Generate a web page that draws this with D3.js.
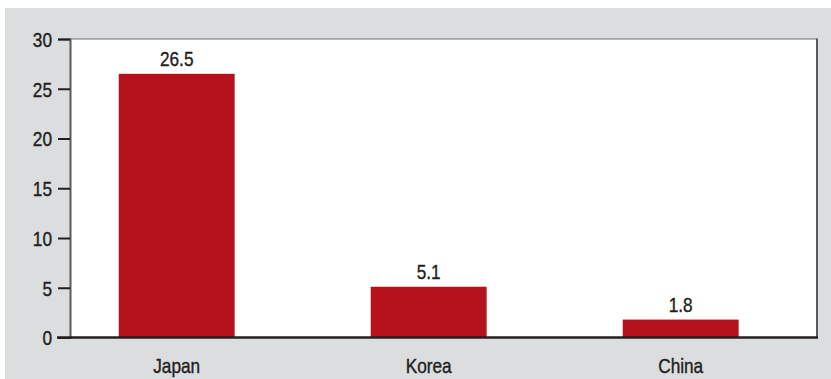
<!DOCTYPE html>
<html>
<head>
<meta charset="utf-8">
<script src="https://cdn.jsdelivr.net/npm/d3@7"></script>
<style>
  html, body { margin: 0; padding: 0; background: #ffffff; }
  svg { display: block; }
  text { font-family: "Liberation Sans", Arial, Helvetica, sans-serif; fill: #231f20; }
</style>
</head>
<body>
<svg id="chart" width="831" height="379"></svg>
<script>
// Chart data
const categories = ["Japan", "Korea", "China"];
const values = [26.5, 5.1, 1.8];
const yTicks = [0, 5, 10, 15, 20, 25, 30];

const W = 831, H = 379;
const plot = { left: 70, top: 39, right: 817, bottom: 337.5 };
const FS = 21;
const SQUEEZE = 0.82;   // narrow the sans face into a condensed look
const INK = "#231f20";

const svg = d3.select("#chart");

// Position a text node at (px, py) and condense it horizontally
function condense(sel, px, py) {
  sel.attr("x", 0).attr("y", 0)
    .attr("transform", (d, i, n) => `translate(${px(d, i, n)},${py(d, i, n)}) scale(${SQUEEZE},1)`)
    .attr("font-size", FS)
    .attr("font-family", "Liberation Sans, Arial, Helvetica, sans-serif")
    .attr("fill", INK)
    .attr("stroke", INK)
    .attr("stroke-width", 0.4);
}

// Grey panel behind the plot
svg.append("rect")
  .attr("x", 5).attr("y", 8)
  .attr("width", W - 5).attr("height", H - 8)
  .attr("fill", "#dcdddf");

// White plotting area
svg.append("rect")
  .attr("x", plot.left).attr("y", plot.top)
  .attr("width", plot.right - plot.left).attr("height", plot.bottom - plot.top)
  .attr("fill", "#ffffff");

const y = d3.scaleLinear().domain([0, 30]).range([plot.bottom, plot.top]);

const x = d3.scaleBand()
  .domain(categories)
  .range([50.7, 806.7])
  .paddingInner(0.54)
  .paddingOuter(0.27);

const rows = categories.map((c, i) => ({ c, v: values[i] }));

// Bars
svg.append("g")
  .selectAll("rect")
  .data(rows)
  .join("rect")
  .attr("x", d => x(d.c))
  .attr("y", d => y(d.v))
  .attr("width", x.bandwidth())
  .attr("height", d => y(0) - y(d.v))
  .attr("fill", "#b5121b");

// Value labels above the bars
svg.append("g")
  .selectAll("text")
  .data(rows)
  .join("text")
  .attr("text-anchor", "middle")
  .text(d => d.v.toFixed(1))
  .call(condense, d => x(d.c) + x.bandwidth() / 2, d => y(d.v) - 7.5);

// Frame: top and right edges
svg.append("line")
  .attr("x1", plot.left).attr("x2", plot.right)
  .attr("y1", plot.top).attr("y2", plot.top)
  .attr("stroke", "#6d6e71").attr("stroke-width", 1);
svg.append("line")
  .attr("x1", plot.right).attr("x2", plot.right)
  .attr("y1", plot.top - 0.5).attr("y2", plot.bottom)
  .attr("stroke", "#58595b").attr("stroke-width", 2);

// Y axis
const yAxis = svg.append("g")
  .attr("transform", `translate(${plot.left},0)`)
  .call(d3.axisLeft(y).tickValues(yTicks).tickSize(12).tickPadding(5).tickFormat(d3.format("d")));
yAxis.select(".domain").attr("stroke", "#58595b").attr("stroke-width", 2);
yAxis.selectAll(".tick line").attr("stroke", INK).attr("stroke-width", 2);
yAxis.selectAll(".tick text")
  .attr("dy", "0.35em")
  .call(condense, () => -18, () => 0);

// X axis (category labels)
const xAxis = svg.append("g")
  .attr("transform", `translate(0,${plot.bottom})`)
  .call(d3.axisBottom(x).tickSize(0));
xAxis.select(".domain").remove();
xAxis.selectAll(".tick text")
  .attr("dy", 0)
  .call(condense, () => 0, () => 35.5);

// Baseline
svg.append("line")
  .attr("x1", 57).attr("x2", plot.right + 1)
  .attr("y1", plot.bottom).attr("y2", plot.bottom)
  .attr("stroke", INK).attr("stroke-width", 2.5);
</script>
</body>
</html>
